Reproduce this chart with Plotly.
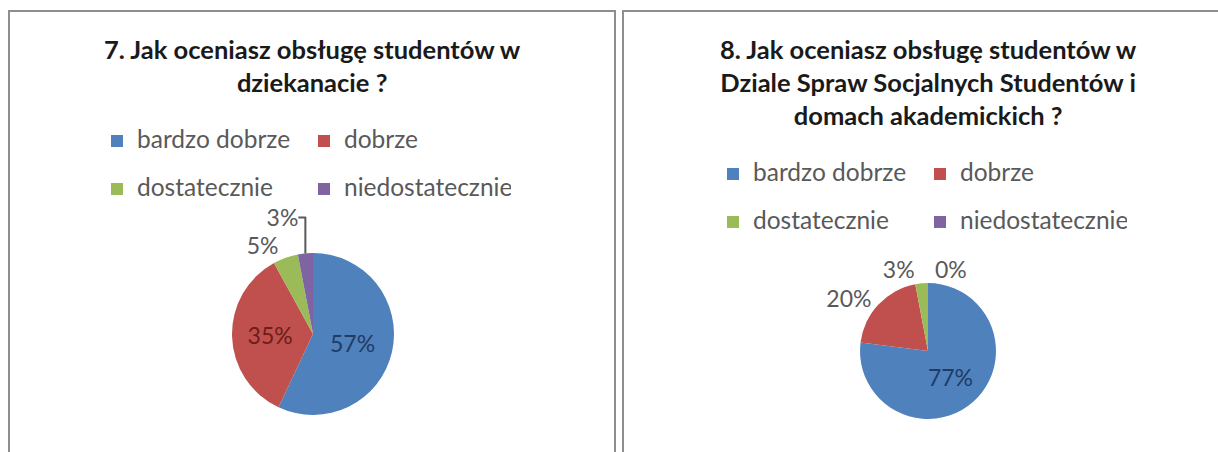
import plotly.graph_objects as go

# ---------------- data ----------------
categories = ["bardzo dobrze", "dobrze", "dostatecznie", "niedostatecznie"]
values_q7 = [57, 35, 5, 3]
values_q8 = [77, 20, 3, 0]
title_q7 = "7. Jak oceniasz obsługę studentów w<br>dziekanacie ?"
title_q8 = ("8. Jak oceniasz obsługę studentów w<br>Dziale Spraw Socjalnych Studentów i"
            "<br>domach akademickich ?")

# ---------------- style ----------------
slice_colors = ["#4F81BD", "#C0504D", "#9BBB59", "#8064A2"]
inside_text_colors = ["#1F3B66", "#6B1E1C", "#4F6228", "#3F3151"]
FONT = "Lato"
GRAY = "#595959"

W, H = 1218, 452
L, R, T, B = 232, 220, 80, 28
PW = W - L - R
PH = H - T - B
BW = 8  # transparent legend border, only used to widen the legend clip box


def px(x):
    return (x - L) / PW


def py(y):
    return (H - B - y) / PH


legend_labels = [
    f"<span style='font-size:24.5px;baseline-shift:6px'>{c}</span>" for c in categories
]

fig = go.Figure()

fig.add_trace(go.Pie(
    labels=legend_labels, values=values_q7, sort=False,
    direction="clockwise", rotation=0,
    marker=dict(colors=slice_colors, line=dict(width=0)),
    texttemplate="%{percent:.0%}",
    textposition=["inside", "inside", "outside", "outside"],
    insidetextorientation="horizontal",
    insidetextfont=dict(family=FONT, size=23, color=inside_text_colors),
    outsidetextfont=dict(family=FONT, size=23, color=GRAY),
    domain=dict(x=[px(232), px(394)], y=[py(415), py(253)]),
    legend="legend", legendgroup="q7", hoverinfo="label+percent",
))

fig.add_trace(go.Pie(
    labels=legend_labels, values=values_q8, sort=False,
    direction="clockwise", rotation=0,
    marker=dict(colors=slice_colors, line=dict(width=0)),
    texttemplate="%{percent:.0%}",
    textposition=["inside", "outside", "outside", "outside"],
    insidetextorientation="horizontal",
    insidetextfont=dict(family=FONT, size=23, color=inside_text_colors),
    outsidetextfont=dict(family=FONT, size=23, color=GRAY),
    domain=dict(x=[px(860), px(996)], y=[py(419), py(283)]),
    legend="legend2", legendgroup="q8", hoverinfo="label+percent",
))

legend_common = dict(
    orientation="h", entrywidth=162, entrywidthmode="pixels",
    font=dict(family=FONT, size=34.6, color=GRAY),
    bgcolor="rgba(0,0,0,0)", bordercolor="rgba(0,0,0,0)", borderwidth=BW,
    yanchor="top", traceorder="normal",
)

shapes = [
    dict(type="rect", xref="paper", yref="paper",
         x0=px(9), x1=px(615), y0=py(470), y1=py(11),
         line=dict(color="#8E8E8E", width=2), fillcolor="rgba(0,0,0,0)", layer="below"),
    dict(type="rect", xref="paper", yref="paper",
         x0=px(623), x1=px(1240), y0=py(470), y1=py(11),
         line=dict(color="#8E8E8E", width=2), fillcolor="rgba(0,0,0,0)", layer="below"),
]

annotations = [
    dict(text=title_q7, x=px(312), y=py(32), xref="paper", yref="paper",
         xanchor="center", yanchor="top", showarrow=False, align="center",
         font=dict(family=FONT, size=25.5, color="#1A1A1A", weight="bold")),
    dict(text=title_q8, x=px(928), y=py(32), xref="paper", yref="paper",
         xanchor="center", yanchor="top", showarrow=False, align="center",
         font=dict(family=FONT, size=25.5, color="#1A1A1A", weight="bold")),
]

fig.update_layout(
    width=W, height=H,
    margin=dict(l=L, r=R, t=T, b=B, autoexpand=False),
    paper_bgcolor="white", plot_bgcolor="white",
    legend=dict(x=px(97 - BW), xanchor="left", y=py(112 - BW), **legend_common),
    legend2=dict(x=px(713 + 414 + BW), xanchor="right", y=py(145 - BW), **legend_common),
    shapes=shapes, annotations=annotations,
    showlegend=True,
)

fig.write_html(
    "out.html",
    config={"displayModeBar": False},
    post_script="document.body.style.margin='0px';document.body.style.overflow='hidden';",
)
